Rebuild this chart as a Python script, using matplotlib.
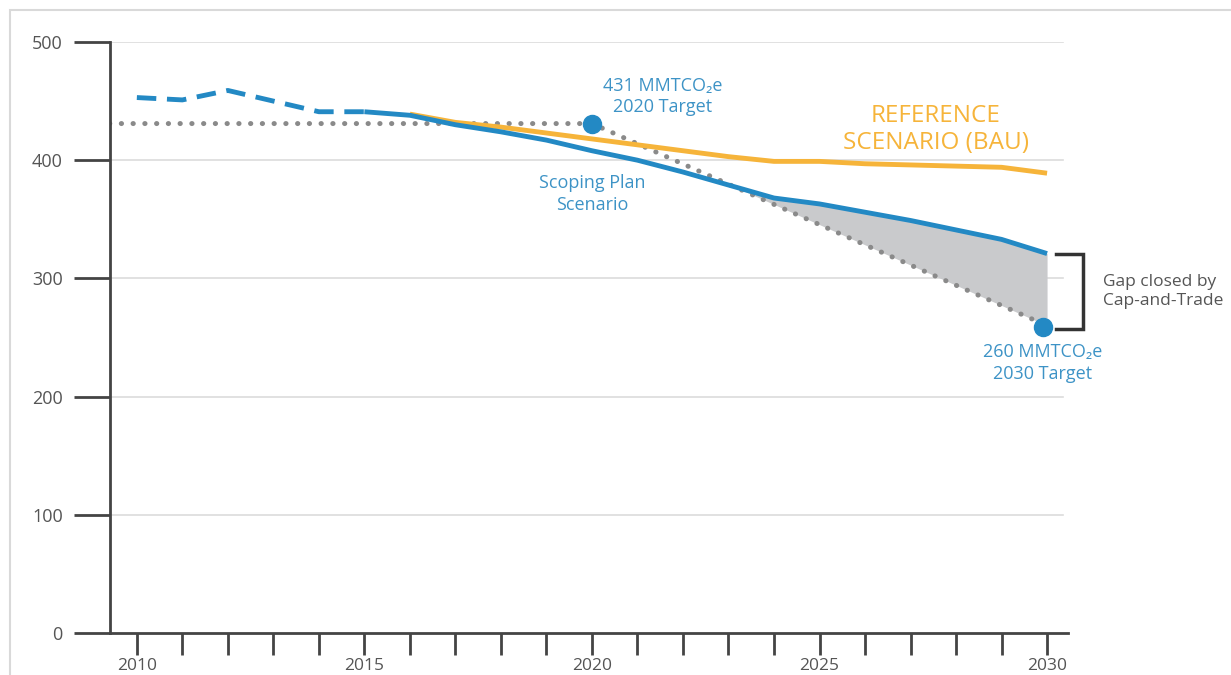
import numpy as np
import matplotlib.pyplot as plt
from matplotlib.patches import Rectangle

plt.rcParams['font.family'] = ['Open Sans', 'DejaVu Sans']

# data (MMTCO2e)
hist_years = [2010, 2011, 2012, 2013, 2014, 2015]
hist_vals = [453, 451, 459, 450, 441, 441]

plan_years = list(range(2015, 2031))
plan_vals = [441, 438, 430, 424, 417, 408, 400, 390, 379, 368, 363, 356, 349, 341, 333, 321]

ref_years = list(range(2016, 2031))
ref_vals = [439, 432, 428, 423, 418, 413, 408, 403, 399, 399, 397, 396, 395, 394, 389]

target_years = [2009.4, 2020, 2030]
target_vals = [431, 431, 260]

blue = '#2389c4'
text_blue = '#3d93c6'
orange = '#f6b43a'
axis_col = '#444444'

fig = plt.figure(figsize=(12.31, 6.75), dpi=100)
fig.patches.append(Rectangle((10 / 1231, -0.1), 1.2, 0.1 + 665 / 675, transform=fig.transFigure,
                             fill=False, edgecolor='#d9d9d9', linewidth=1.5))
ax = fig.add_axes([110 / 1231, 42 / 675, 958 / 1231, 591 / 675])

ax.set_xlim(2009.41, 2030.46)
ax.set_ylim(0, 500)

# gridlines
for v in range(100, 501, 100):
    ax.plot([2009.41, 2030.35], [v, v], color='#dcdcdc', linewidth=1.2, zorder=0)

# gap fill between scoping plan and target path
fx = np.linspace(2020, 2030, 400)
t_line = np.interp(fx, target_years, target_vals)
p_line = np.interp(fx, plan_years, plan_vals)
ax.fill_between(fx, t_line, p_line, where=p_line >= t_line, interpolate=True,
                color='#c9cacc', linewidth=0, zorder=1)

# target path (dotted)
ax.plot(target_years, target_vals, color='#8a8a8a', linewidth=3.6,
        linestyle=(0, (0.05, 2.3)), dash_capstyle='round', zorder=2)

ax.plot(hist_years, hist_vals, color=blue, linewidth=3.5, linestyle=(0, (4, 2.2)), zorder=3)
ax.plot(ref_years, ref_vals, color=orange, linewidth=3.5, zorder=3, solid_capstyle='butt')
ax.plot(plan_years, plan_vals, color=blue, linewidth=3.5, zorder=4, solid_capstyle='butt')

ax.plot([2020, 2029.9], [431, 259], 'o', color=blue, markersize=13, zorder=5, linestyle='none')

# bracket
ax.plot([2030.2, 2030.8, 2030.8, 2030.2], [321, 321, 257, 257], color='#333333',
        linewidth=2.5, clip_on=False, solid_joinstyle='miter')

ax.text(2021.55, 437, '431 MMTCO\u2082e\n2020 Target', color=text_blue, fontsize=13,
        ha='center', va='bottom', linespacing=1.25)
ax.text(2020, 388, 'Scoping Plan\nScenario', color=text_blue, fontsize=13,
        ha='center', va='top', linespacing=1.25)
ax.text(2027.55, 404, 'REFERENCE\nSCENARIO (BAU)', color=orange, fontsize=17.5,
        ha='center', va='bottom', linespacing=1.2)
ax.text(2029.9, 245, '260 MMTCO\u2082e\n2030 Target', color=text_blue, fontsize=13,
        ha='center', va='top', linespacing=1.25)
ax.text(2031.23, 289, 'Gap closed by\nCap-and-Trade', color='#555555', fontsize=12.5,
        ha='left', va='center', linespacing=1.3, clip_on=False)

# axes styling
for s in ['top', 'right']:
    ax.spines[s].set_visible(False)
for s in ['left', 'bottom']:
    ax.spines[s].set_color(axis_col)
    ax.spines[s].set_linewidth(2)

ax.set_yticks(range(0, 501, 100))
ax.tick_params(axis='y', length=26, width=2, color=axis_col, labelcolor='#555555',
               labelsize=13, pad=8)
ax.set_xticks(range(2010, 2031))
ax.set_xticklabels([str(y) if y % 5 == 0 else '' for y in range(2010, 2031)])
ax.tick_params(axis='x', length=16, width=2, color=axis_col, labelcolor='#555555',
               labelsize=12.5, pad=2)

fig.savefig('out.png', dpi=100)
